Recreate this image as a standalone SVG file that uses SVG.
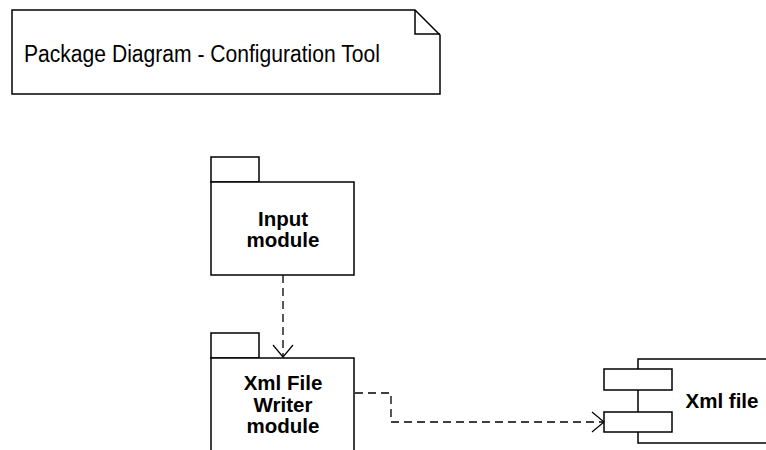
<svg xmlns="http://www.w3.org/2000/svg" width="766" height="450" viewBox="0 0 766 450">
<style>
.ln{fill:none;stroke:#000;stroke-width:1.5}
.box{fill:#fff;stroke:#000;stroke-width:1.5}
.dash{fill:none;stroke:#000;stroke-width:1.3;stroke-dasharray:8,5}
.lbl{font-family:"Liberation Sans",Arial,sans-serif;font-weight:bold;font-size:20.5px;text-anchor:middle;fill:#000}
.note{font-family:"Liberation Sans",Arial,sans-serif;font-size:21.1px;fill:#000}
</style>
<defs>
<marker id="open" markerWidth="14" markerHeight="24" refX="13" refY="12" orient="auto" markerUnits="userSpaceOnUse">
<path d="M1,2 L13,12 L1,22" fill="none" stroke="#000" stroke-width="1.2"/>
</marker>
</defs>
<rect width="766" height="450" fill="#fff"/>
<g id="note">
<path class="box" d="M12,10 H415 L440,35 V94 H12 Z"/>
<path class="ln" d="M415,10 V34 H440"/>
<text class="note" transform="translate(24,62) scale(1,1.15)">Package Diagram - Configuration Tool</text>
</g>
<g id="input-module">
<rect class="box" x="211" y="157" width="48" height="25"/>
<rect class="box" x="211" y="182" width="143" height="93"/>
<text class="lbl" x="283" y="225.5">Input</text>
<text class="lbl" x="283" y="246.5">module</text>
</g>
<g id="xml-writer-module">
<rect class="box" x="211" y="333" width="48" height="25"/>
<rect class="box" x="211" y="358" width="143" height="100"/>
<text class="lbl" x="283" y="390">Xml File</text>
<text class="lbl" x="283" y="411.5">Writer</text>
<text class="lbl" x="283" y="433">module</text>
</g>
<g id="xml-file">
<rect class="box" x="638" y="359" width="140" height="84"/>
<rect class="box" x="604" y="369" width="68" height="21"/>
<rect class="box" x="604" y="412" width="68" height="20"/>
<text class="lbl" x="722" y="407.5">Xml file</text>
</g>
<g id="connectors">
<path class="dash" d="M283,275 V357" marker-end="url(#open)"/>
<path class="dash" d="M355,393 H391 V422 H604" marker-end="url(#open)"/>
</g>
</svg>
